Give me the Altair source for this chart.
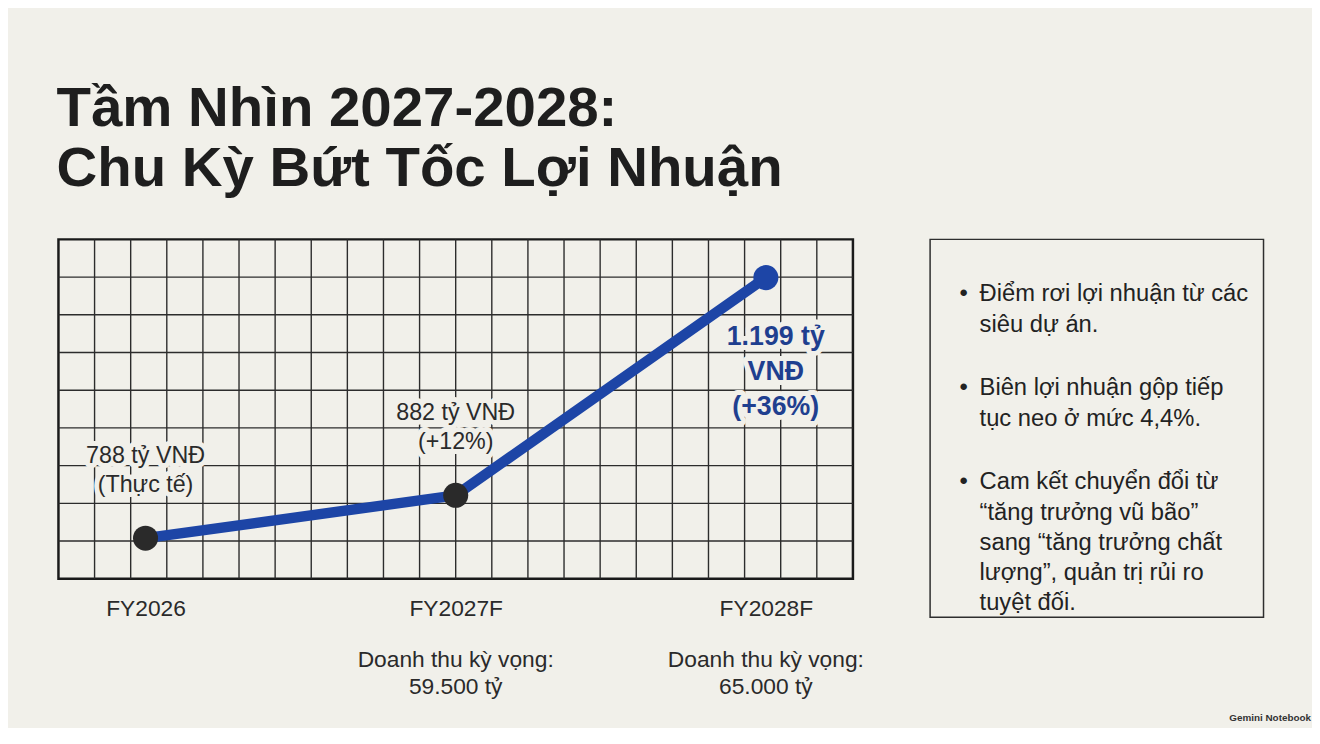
import altair as alt
import pandas as pd

# ---------------- data ----------------
periods = ["FY2026", "FY2027F", "FY2028F"]
profit = [788, 882, 1199]
profit_labels = [
    ["788 tỷ VNĐ", "(Thực tế)"],
    ["882 tỷ VNĐ", "(+12%)"],
    ["1.199 tỷ", "VNĐ", "(+36%)"],
]
label_side = ["above", "above", "below"]
revenue_labels = [None, ["Doanh thu kỳ vọng:", "59.500 tỷ"], ["Doanh thu kỳ vọng:", "65.000 tỷ"]]
grid_columns = list(range(1, 22))   # 22 columns
grid_rows = list(range(1, 9))       # 9 rows
bullets = [
    ["Điểm rơi lợi nhuận từ các", "siêu dự án."],
    ["Biên lợi nhuận gộp tiếp", "tục neo ở mức 4,4%."],
    ["Cam kết chuyển đổi từ", "“tăng trưởng vũ bão”", "sang “tăng trưởng chất",
     "lượng”, quản trị rủi ro", "tuyệt đối."],
]
title_lines = ["Tầm Nhìn 2027-2028:", "Chu Kỳ Bứt Tốc Lợi Nhuận"]
footer = ["Gemini Notebook"]

# ---------------- style ----------------
BG = "#f1f0ea"
DARK = "#2a2a2a"
BLUE = "#1d45a6"
BLUE_TEXT = "#1f3f8f"
GRID = "#2c2c2c"
FONT = "Liberation Sans"
W, H = 803, 343
RW, RH = 337, 382

df = pd.DataFrame({
    "period": periods,
    "profit": profit,
    "label": profit_labels,
    "side": label_side,
    "revenue": revenue_labels,
})

X = alt.X("period:N", sort=periods,
          scale=alt.Scale(type="point", padding=0.2807),
          axis=alt.Axis(title=None, labelAngle=0, labelFontSize=23, labelFont=FONT,
                        labelColor=DARK, labelPadding=19, ticks=False, domain=False,
                        grid=False))
Y = alt.Y("profit:Q",
          scale=alt.Scale(type="pow", exponent=2.84, domain=[674.5, 1240.8],
                          nice=False, zero=False),
          axis=None)

base = alt.Chart(df)

line = base.mark_line(color=BLUE, strokeWidth=10.5).encode(x=X, y=Y)
dots = base.mark_circle(size=640, opacity=1).encode(
    x=X, y=Y,
    color=alt.Color("period:N", scale=alt.Scale(domain=periods, range=[DARK, DARK, BLUE]),
                    legend=None))

above = base.transform_filter(alt.datum.side == "above")
below = base.transform_filter(alt.datum.side == "below")

above_kw = dict(baseline="middle", dy=-83, fontSize=23.5, lineHeight=29, font=FONT,
                align="center")
below_kw = dict(baseline="middle", dy=60, dx=10, fontSize=27, lineHeight=35.5, font=FONT,
                fontWeight="bold", align="center")

above_halo = above.mark_text(stroke=BG, strokeWidth=10, strokeJoin="round", color=BG,
                             **above_kw).encode(x=X, y=Y, text="label")
above_txt = above.mark_text(color=DARK, **above_kw).encode(x=X, y=Y, text="label")
below_halo = below.mark_text(stroke=BG, strokeWidth=10, strokeJoin="round", color=BG,
                             **below_kw).encode(x=X, y=Y, text="label")
below_txt = below.mark_text(color=BLUE_TEXT, **below_kw).encode(x=X, y=Y, text="label")

revenue = base.transform_filter("datum.revenue != null").mark_text(
    baseline="middle", fontSize=23, lineHeight=28, font=FONT, color=DARK, align="center"
).encode(x=X, y=alt.value(425), text="revenue")

main = alt.layer(line, dots, above_halo, above_txt, below_halo, below_txt, revenue)

grid_v = alt.Chart(pd.DataFrame({"c": grid_columns})).mark_rule(
    color=GRID, strokeWidth=1.4).encode(
    x=alt.X("c:Q", scale=alt.Scale(domain=[0, 22], nice=False, zero=False), axis=None),
    y=alt.value(0), y2=alt.value(H))
grid_h = alt.Chart(pd.DataFrame({"r": grid_rows})).mark_rule(
    color=GRID, strokeWidth=1.4).encode(
    y=alt.Y("r:Q", scale=alt.Scale(domain=[0, 9], nice=False, zero=False), axis=None),
    x=alt.value(0), x2=alt.value(W))

left = alt.layer(grid_v, grid_h, main).resolve_scale(
    x="independent", y="independent").properties(
    width=W, height=H,
    view=alt.ViewBackground(stroke="#1a1a1a", strokeWidth=2.5, fill=None))

# ---------------- right panel ----------------
bdf = pd.DataFrame({"idx": list(range(len(bullets))), "lines": bullets,
                    "dot": ["•"] * len(bullets)})
BY = alt.Y("idx:Q", scale=alt.Scale(domain=[-0.46, 3.56], reverse=True, nice=False,
                                    zero=False), axis=None)
btext = alt.Chart(bdf).mark_text(align="left", baseline="top", fontSize=24, lineHeight=30.5,
                                 font=FONT, color="#222222").encode(
    x=alt.value(50), y=BY, text="lines")
bdot = alt.Chart(bdf).mark_text(align="center", baseline="top", fontSize=24,
                                font=FONT, color="#222222").encode(
    x=alt.value(34), y=BY, text="dot")
foot = alt.Chart(pd.DataFrame({"t": footer})).mark_text(
    align="right", baseline="middle", fontSize=10, fontWeight="bold", font=FONT,
    color="#333333").encode(x=alt.value(385), y=alt.value(484), text="t")

right = alt.layer(btext, bdot, foot).properties(
    width=RW, height=RH,
    view=alt.ViewBackground(stroke="#2e2e2e", strokeWidth=1.5, fill=None))

chart = alt.hconcat(left, right, spacing=64).properties(
    title=alt.TitleParams(text=title_lines, anchor="start", fontSize=57, font=FONT,
                          fontWeight="bold", color="#1e1e1e", lineHeight=61, offset=40),
    background=BG,
    padding={"left": 49, "top": 69, "right": 0, "bottom": 0},
).configure_view(stroke=None)

chart.save("out.html", embed_options={"renderer": "svg", "actions": False})
